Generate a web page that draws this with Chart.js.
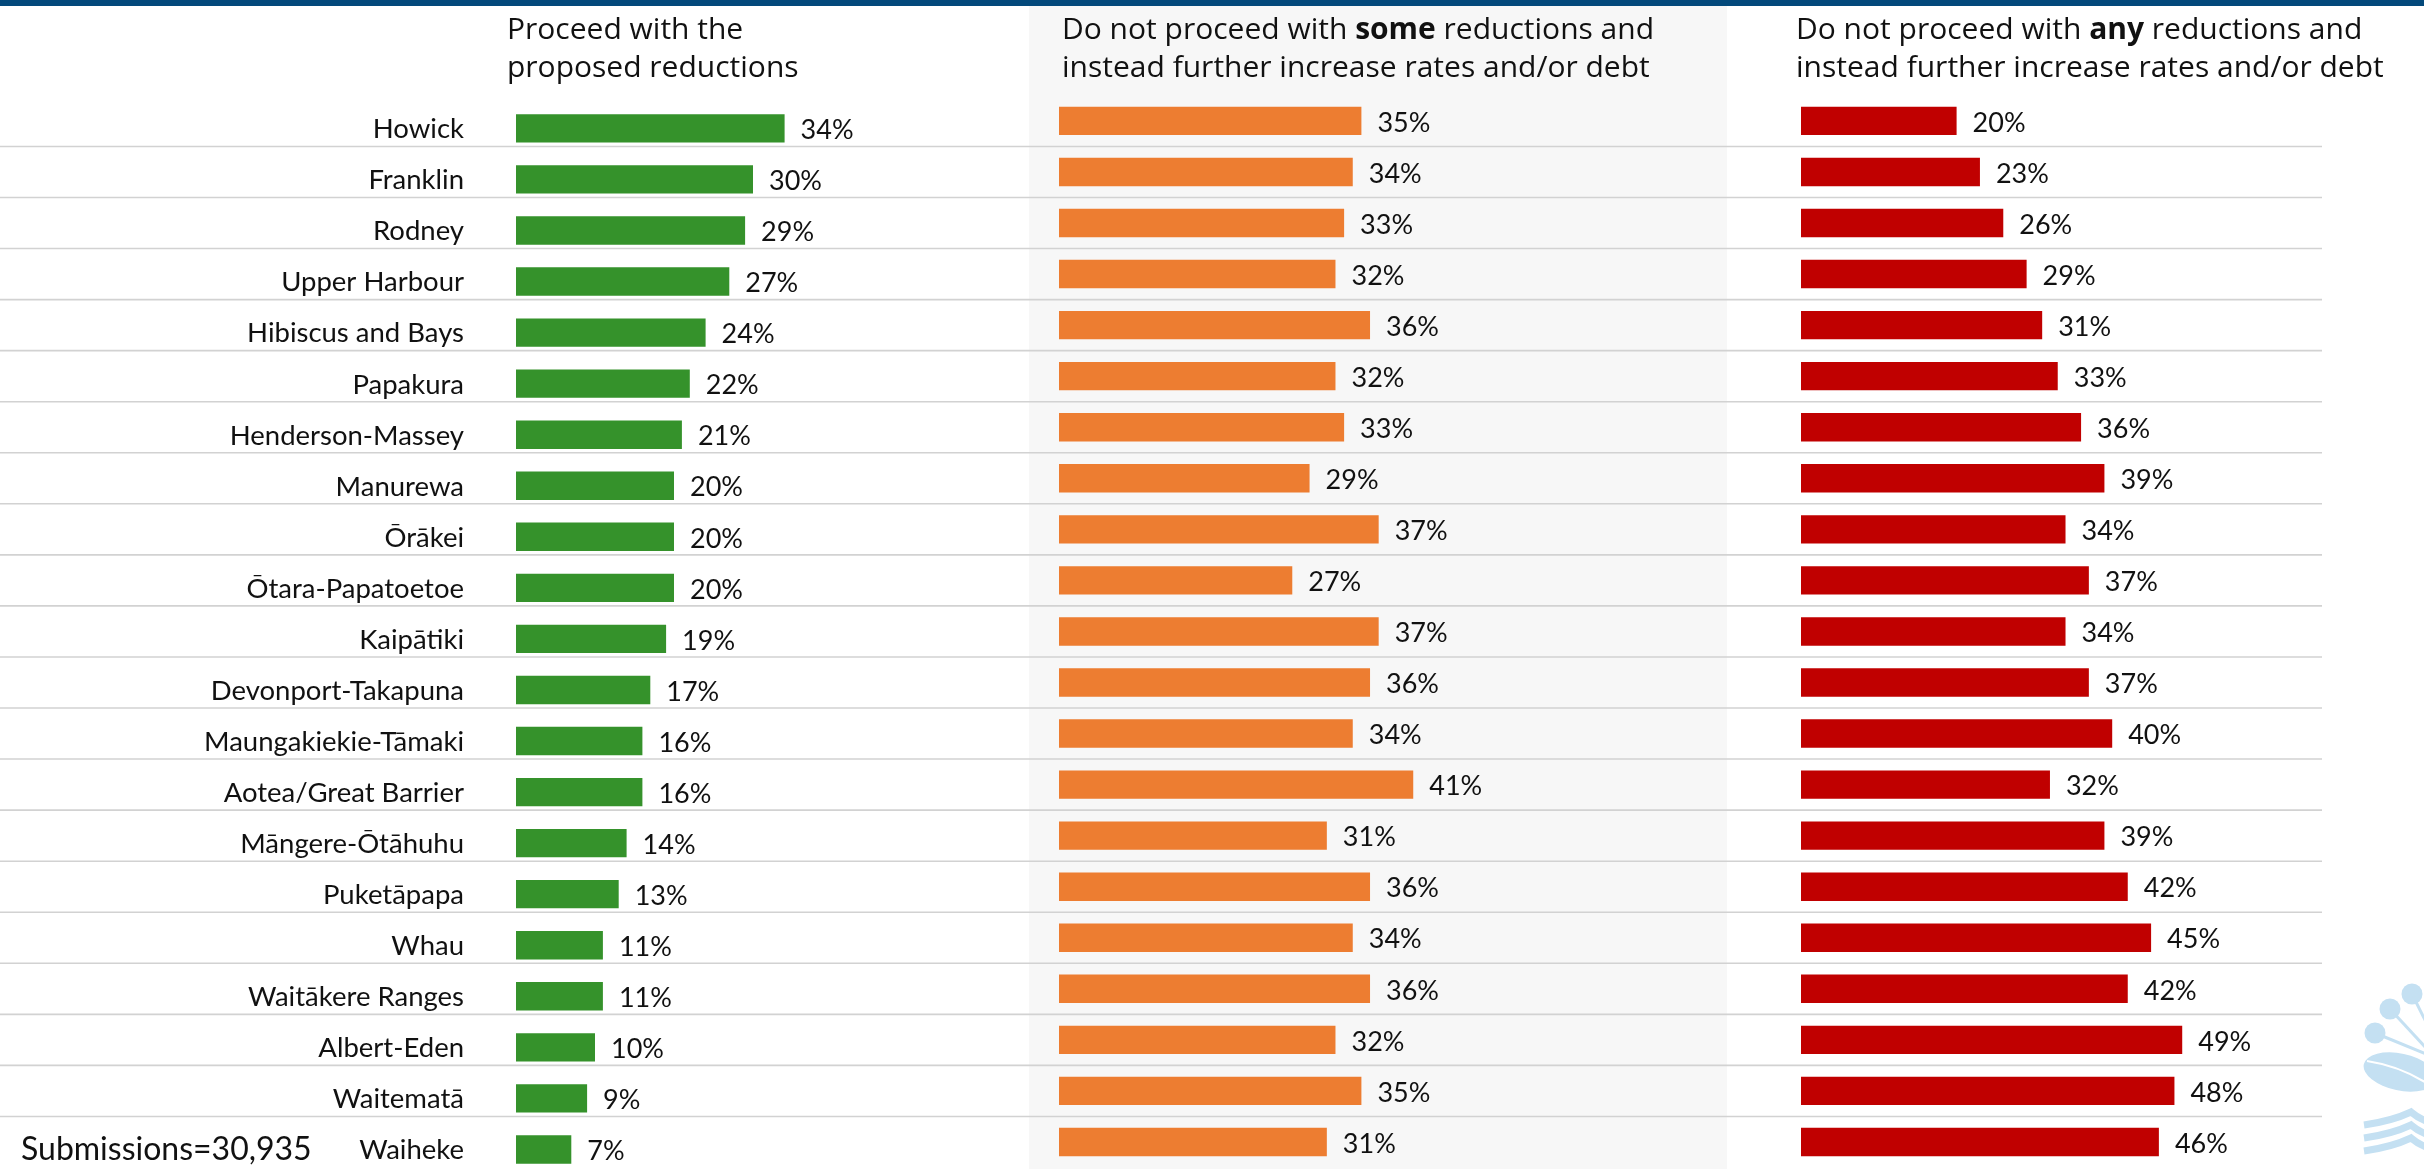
<!DOCTYPE html>
<html>
<head>
<meta charset="utf-8">
<title>Local board preferences</title>
<script src="https://cdn.jsdelivr.net/npm/chart.js@4.4.1/dist/chart.umd.min.js"></script>
<style>
  html, body { margin: 0; padding: 0; background: #ffffff; width: 2424px; height: 1169px; overflow: hidden; }
  #topbar { position: absolute; left: 0; top: 0; width: 2424px; height: 6px; background: #03497b; z-index: 5; }
  #shade { position: absolute; left: 1029px; top: 5px; width: 698px; height: 1200px; background: #f7f7f7; z-index: 0; }
  #wrap { position: absolute; left: 0; top: 0; width: 2424px; height: 1200px; z-index: 1; }
  .head { position: absolute; top: 9px; font-family: 'Open Sans', sans-serif; font-size: 30px; line-height: 38px;
          color: #111111; white-space: nowrap; z-index: 2; }
  .head b { font-weight: 700; }
  #note { position: absolute; left: 21px; top: 1127px; font-family: Lato, sans-serif; font-size: 32px; line-height: 42px;
          color: #111111; white-space: nowrap; z-index: 2; }
  #mark { position: absolute; left: 0; top: 0; z-index: 2; }
</style>
</head>
<body>
<div id="topbar"></div>
<div id="shade"></div>
<div class="head" style="left:507px">Proceed with the<br>proposed reductions</div>
<div class="head" style="left:1062px">Do not proceed with <b>some</b> reductions and<br>instead further increase rates and/or debt</div>
<div class="head" style="left:1796px">Do not proceed with <b>any</b> reductions and<br>instead further increase rates and/or debt</div>
<div id="wrap"><canvas id="chart"></canvas></div>
<div id="note"></div>
<svg id="mark" width="2424" height="1169" viewBox="0 0 2424 1169">
  <g fill="#c4e0f2" stroke="#c4e0f2">
    <line x1="2412" y1="994" x2="2426" y2="1022" stroke-width="3"/>
    <line x1="2390" y1="1009" x2="2426" y2="1048" stroke-width="3"/>
    <line x1="2375" y1="1033" x2="2426" y2="1054" stroke-width="3"/>
    <circle cx="2412" cy="994" r="10.5" stroke="none"/>
    <circle cx="2390" cy="1009" r="10.5" stroke="none"/>
    <circle cx="2375" cy="1033" r="10.5" stroke="none"/>
    <ellipse cx="2400" cy="1072" rx="37" ry="18.5" transform="rotate(12 2400 1072)" stroke="none"/>
    <path d="M2367 1061 Q2400 1066 2428 1084" fill="none" stroke="#ffffff" stroke-width="2"/>
    <path d="M2364 1125 Q2392 1121 2411 1112 Q2418 1118 2428 1122" fill="none" stroke-width="7"/>
    <path d="M2364 1138 Q2392 1134 2411 1125 Q2418 1131 2428 1135" fill="none" stroke-width="7"/>
    <path d="M2364 1151 Q2392 1147 2411 1138 Q2418 1144 2428 1148" fill="none" stroke-width="7"/>
  </g>
</svg>
<script>
// Local board areas, top to bottom
const districts = [
  'Howick', 'Franklin', 'Rodney', 'Upper Harbour', 'Hibiscus and Bays', 'Papakura',
  'Henderson-Massey', 'Manurewa', 'Ōrākei', 'Ōtara-Papatoetoe', 'Kaipātiki',
  'Devonport-Takapuna', 'Maungakiekie-Tāmaki', 'Aotea/Great Barrier', 'Māngere-Ōtāhuhu',
  'Puketāpapa', 'Whau', 'Waitākere Ranges', 'Albert-Eden', 'Waitematā', 'Waiheke'
];

// Share of submissions (%) for each option
const proceedPct        = [34, 30, 29, 27, 24, 22, 21, 20, 20, 20, 19, 17, 16, 16, 14, 13, 11, 11, 10, 9, 7];
const someReductionsPct = [35, 34, 33, 32, 36, 32, 33, 29, 37, 27, 37, 36, 34, 41, 31, 36, 34, 36, 32, 35, 31];
const anyReductionsPct  = [20, 23, 26, 29, 31, 33, 36, 39, 34, 37, 34, 37, 40, 32, 39, 42, 45, 42, 49, 48, 46];

const submissionCount = 30935;

// ---- layout ----
const CANVAS_W = 2424;
const CANVAS_H = 1200;
const AXIS_W = 480;          // room for the local board names
const ROW_H = 51.25;         // height of one row
const FIRST_ROW = 121;       // centre of the first row
const FIRST_COL_DROP = 7.5;  // the first column's bars sit a little lower in each row
const LABEL_GAP = 16;        // space between a bar end and its value
const LABEL_FONT = { family: 'Lato', size: 27 };

// zero position and pixels per percentage point for each column
const columns = {
  xg: { zero: 516,  perPct: 7.90 },
  xo: { zero: 1059, perPct: 8.64 },
  xr: { zero: 1801, perPct: 7.78 }
};

function valueAxis(id) {
  const c = columns[id];
  return {
    type: 'linear', axis: 'x', display: false,
    min: -(c.zero - AXIS_W) / c.perPct,
    max: (CANVAS_W - c.zero) / c.perPct
  };
}

document.getElementById('note').textContent =
  'Submissions=' + submissionCount.toLocaleString('en-NZ');

// thin rules between the rows, across the full width
const rowRules = {
  id: 'rowRules',
  beforeDatasetsDraw(chart) {
    const s = chart.scales.yc;
    const ctx = chart.ctx;
    ctx.save();
    ctx.strokeStyle = '#d2d2d2';
    ctx.lineWidth = 1.6;
    for (let i = 0; i < districts.length - 1; i++) {
      const y = (s.getPixelForValue(i) + s.getPixelForValue(i + 1)) / 2;
      ctx.beginPath();
      ctx.moveTo(0, y);
      ctx.lineTo(2322, y);
      ctx.stroke();
    }
    ctx.restore();
  }
};

// percentage written just past the end of each bar
const barValues = {
  id: 'barValues',
  afterDatasetsDraw(chart) {
    const ctx = chart.ctx;
    ctx.save();
    ctx.font = `${LABEL_FONT.size}px ${LABEL_FONT.family}`;
    ctx.fillStyle = '#111111';
    ctx.textAlign = 'left';
    ctx.textBaseline = 'middle';
    chart.data.datasets.forEach((ds, di) => {
      const meta = chart.getDatasetMeta(di);
      meta.data.forEach((bar, i) => {
        const v = meta.controller.getParsed(i).x;
        ctx.fillText(Math.round(v) + '%', bar.x + LABEL_GAP, bar.y + 2);
      });
    });
    ctx.restore();
  }
};

const ctx = document.getElementById('chart');
new Chart(ctx, {
  type: 'bar',
  data: {
    labels: districts,
    datasets: [
      {
        label: 'Proceed with the proposed reductions',
        data: proceedPct.map((v, i) => ({ x: v, y: i })),
        xAxisID: 'xg', yAxisID: 'y',
        backgroundColor: '#35922b'
      },
      {
        label: 'Do not proceed with some reductions and instead further increase rates and/or debt',
        data: someReductionsPct,
        xAxisID: 'xo', yAxisID: 'yc',
        backgroundColor: '#ed7d31'
      },
      {
        label: 'Do not proceed with any reductions and instead further increase rates and/or debt',
        data: anyReductionsPct,
        xAxisID: 'xr', yAxisID: 'yc',
        backgroundColor: '#c00000'
      }
    ]
  },
  options: {
    indexAxis: 'y',
    responsive: true,
    maintainAspectRatio: false,
    devicePixelRatio: 1,
    animation: false,
    grouped: false,
    categoryPercentage: 1,
    barPercentage: 0.556,
    layout: {
      padding: {
        left: 0, right: 0,
        top: FIRST_ROW - ROW_H / 2,
        bottom: CANVAS_H - (FIRST_ROW - ROW_H / 2) - ROW_H * districts.length
      }
    },
    plugins: {
      legend: { display: false },
      tooltip: { enabled: false },
      title: { display: false }
    },
    scales: {
      xg: valueAxis('xg'),
      xo: valueAxis('xo'),
      xr: valueAxis('xr'),
      yc: { type: 'category', axis: 'y', display: false, offset: true },
      y: {
        type: 'linear', axis: 'y', position: 'left', reverse: true, offset: false,
        min: -0.5 - FIRST_COL_DROP / ROW_H,
        max: -0.5 - FIRST_COL_DROP / ROW_H + districts.length,
        afterBuildTicks: s => { s.ticks = districts.map((d, i) => ({ value: i })); },
        afterFit: s => { s.width = AXIS_W; },
        grid: { display: false, drawTicks: false },
        border: { display: false },
        ticks: {
          autoSkip: false,
          padding: 16,
          labelOffset: 1,
          color: '#111111',
          font: { family: LABEL_FONT.family, size: 27.5 },
          callback: v => districts[v] ?? ''
        }
      }
    }
  },
  plugins: [rowRules, barValues]
});
</script>
</body>
</html>
